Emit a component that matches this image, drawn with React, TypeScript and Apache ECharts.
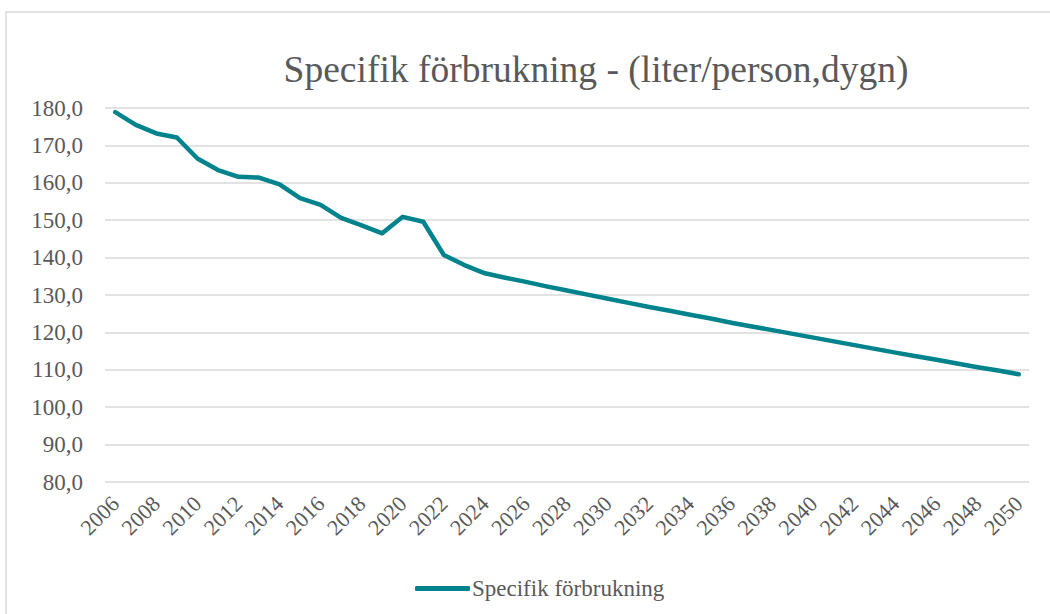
import React, { useEffect, useRef } from "react";
import * as echarts from "echarts";

const years: string[] = [
  "2006", "2007", "2008", "2009", "2010", "2011", "2012", "2013", "2014", "2015",
  "2016", "2017", "2018", "2019", "2020", "2021", "2022", "2023", "2024", "2025",
  "2026", "2027", "2028", "2029", "2030", "2031", "2032", "2033", "2034", "2035",
  "2036", "2037", "2038", "2039", "2040", "2041", "2042", "2043", "2044", "2045",
  "2046", "2047", "2048", "2049", "2050",
];

const specifikForbrukning: number[] = [
  178.9, 175.5, 173.2, 172.1, 166.5, 163.4, 161.6, 161.4, 159.6, 155.9,
  154.1, 150.6, 148.6, 146.5, 150.9, 149.6, 140.7, 138.0, 135.8, 134.6,
  133.5, 132.3, 131.2, 130.1, 129.0, 127.9, 126.8, 125.8, 124.7, 123.7,
  122.6, 121.6, 120.6, 119.6, 118.6, 117.6, 116.6, 115.6, 114.6, 113.6,
  112.7, 111.7, 110.7, 109.8, 108.8,
];

const titleText = "Specifik förbrukning - (liter/person,dygn)";
const seriesName = "Specifik förbrukning";

const FONT = '"Liberation Serif", "Times New Roman", serif';
const TEXT = "#595959";
const LINE = "#00838c";

const txt = (size: number) => ({
  fontFamily: FONT,
  fontSize: size,
  fontWeight: "normal" as const,
  fontStyle: "normal" as const,
  color: TEXT,
});

export default function App() {
  const ref = useRef<HTMLDivElement>(null);

  useEffect(() => {
    if (!ref.current) return;
    const chart = echarts.init(ref.current, undefined, { renderer: "svg" });
    chart.setOption({
      animation: false,
      backgroundColor: "#ffffff",
      textStyle: txt(20),
      title: {
        text: titleText,
        left: 591,
        top: 45,
        textAlign: "center",
        textStyle: txt(37.5),
      },
      graphic: [
        {
          type: "rect",
          shape: { x: 6, y: 12, width: 1100, height: 700 },
          style: { fill: "none", stroke: "#d9d9d9", lineWidth: 1.5 },
          silent: true,
        },
      ],
      legend: {
        left: 410,
        top: 572,
        itemWidth: 55,
        itemHeight: 5,
        itemGap: 10,
        icon: "roundRect",
        textStyle: { ...txt(23), padding: [0, 0, 0, -3] },
        data: [seriesName],
      },
      grid: {
        left: 105,
        right: 21,
        top: 108,
        bottom: 132,
        containLabel: false,
      },
      xAxis: {
        type: "category",
        data: years,
        boundaryGap: true,
        axisLine: { show: false },
        axisTick: { show: false },
        axisLabel: {
          interval: 1,
          rotate: 45,
          margin: 18,
          ...txt(22),
        },
      },
      yAxis: {
        type: "value",
        min: 80,
        max: 180,
        interval: 10,
        axisLine: { show: false },
        axisTick: { show: false },
        splitLine: { lineStyle: { color: "#d9d9d9", width: 1.5 } },
        axisLabel: {
          margin: 22,
          ...txt(23),
          formatter: (v: number) => v.toFixed(1).replace(".", ","),
        },
      },
      series: [
        {
          name: seriesName,
          type: "line",
          data: specifikForbrukning,
          showSymbol: false,
          symbol: "none",
          lineStyle: { color: LINE, width: 4.5, cap: "round", join: "round" },
          itemStyle: { color: LINE },
        },
      ],
    });
    return () => chart.dispose();
  }, []);

  return (
    <div
      ref={ref}
      style={{ position: "fixed", left: 0, top: 0, width: 1050, height: 614 }}
    />
  );
}
